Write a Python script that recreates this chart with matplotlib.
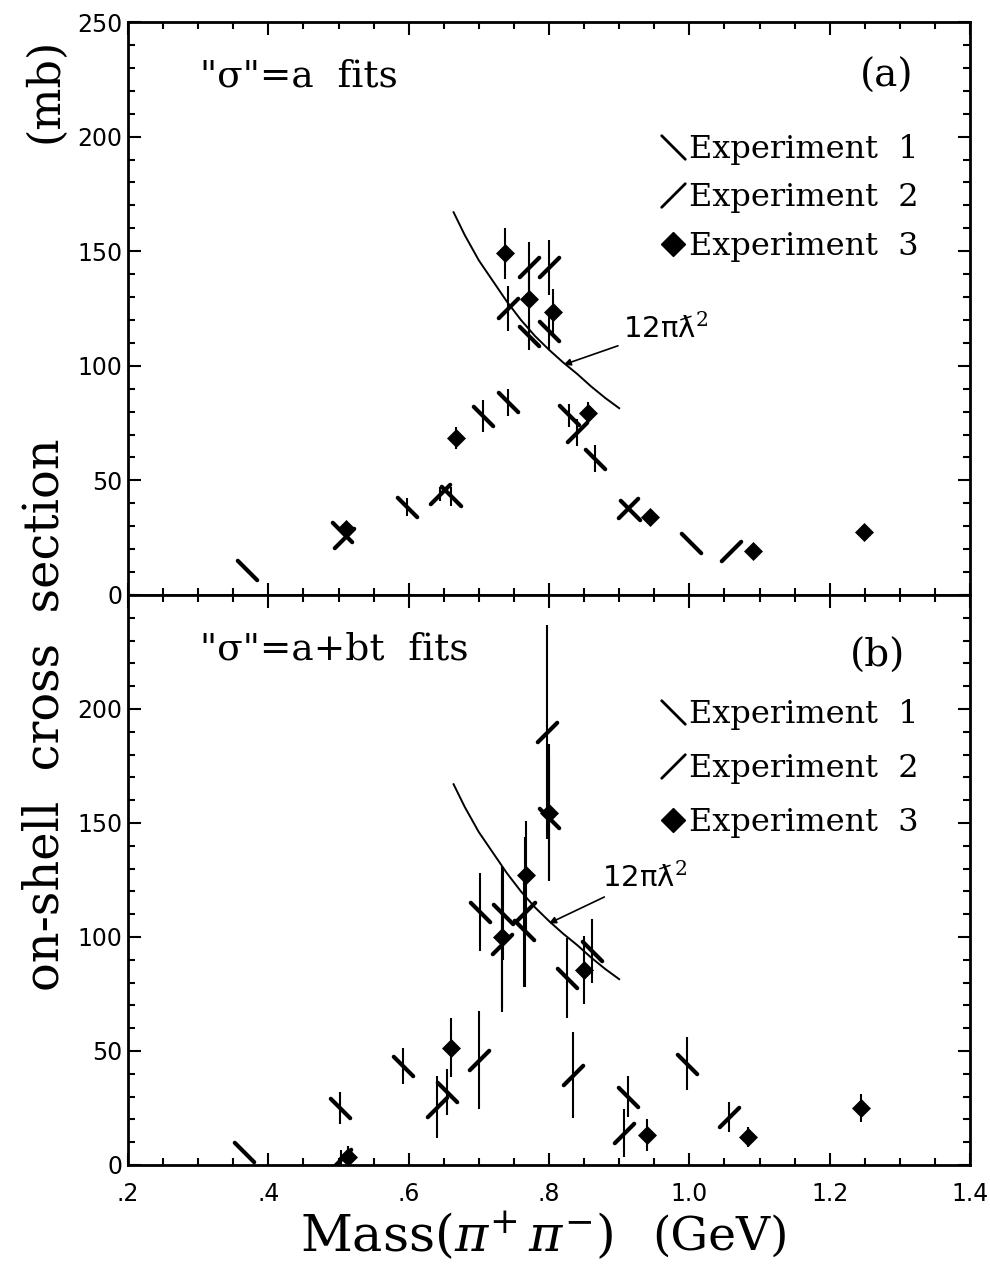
import matplotlib
matplotlib.use('Agg')
import matplotlib.pyplot as plt
from matplotlib.path import Path
from matplotlib.markers import MarkerStyle
from matplotlib.lines import Line2D
from matplotlib.ticker import FixedLocator, MultipleLocator, FixedFormatter

# ---------------- data ----------------
# panel (a): "sigma" = a fits
exp1_a_x = [0.370, 0.505, 0.597, 0.660, 0.706, 0.741, 0.771, 0.800, 0.829, 0.866, 0.915, 1.003]
exp1_a_y = [11.0, 27.5, 38.5, 43.0, 78.0, 84.0, 113.0, 115.0, 78.5, 59.5, 37.0, 22.5]
exp1_a_err = [0, 0, 4, 4, 7, 6, 6, 8, 5, 6, 0, 0]

exp2_a_x = [0.508, 0.645, 0.741, 0.771, 0.800, 0.840, 0.912, 1.060]
exp2_a_y = [25.0, 44.0, 125.0, 143.0, 143.0, 71.0, 38.0, 19.0]
exp2_a_err = [0, 3, 10, 11, 12, 6, 0, 0]

exp3_a_x = [0.510, 0.667, 0.737, 0.771, 0.806, 0.856, 0.944, 1.091, 1.249]
exp3_a_y = [29.0, 68.5, 149.0, 129.0, 123.5, 79.5, 34.0, 19.0, 27.5]
exp3_a_err = [0, 5, 11, 15, 10, 4.5, 0, 0, 0]

# panel (b): "sigma" = a + bt fits
exp1_b_x = [0.366, 0.502, 0.592, 0.655, 0.701, 0.735, 0.765, 0.800, 0.826, 0.861, 0.913, 0.997]
exp1_b_y = [5.7, 25.0, 43.5, 32.0, 111.0, 110.0, 103.0, 152.0, 82.0, 94.0, 30.0, 44.5]
exp1_b_err = [0, 7, 8, 10, 17, 20, 25, 27, 17.5, 14, 9, 11.5]

exp2_b_x = [0.504, 0.641, 0.700, 0.733, 0.766, 0.797, 0.834, 0.907, 1.056]
exp2_b_y = [2.6, 25.5, 46.0, 97.0, 111.0, 190.0, 39.5, 14.0, 21.0]
exp2_b_err = [4, 13.5, 21.5, 30, 33, 47, 19, 10.5, 6.5]

exp3_b_x = [0.513, 0.661, 0.733, 0.767, 0.800, 0.850, 0.939, 1.084, 1.244]
exp3_b_y = [3.5, 51.5, 100.0, 127.0, 154.5, 85.5, 13.0, 12.3, 25.0]
exp3_b_err = [5, 13, 31, 24, 30, 15, 7, 4.5, 6]

# unitarity curve 12*pi*lambdabar^2
curve_x = [0.664, 0.680, 0.700, 0.720, 0.740, 0.760, 0.780, 0.800, 0.820, 0.840, 0.860, 0.880, 0.900]
curve_y = [167.0, 157.0, 146.0, 137.0, 128.0, 120.0, 113.0, 107.0, 101.5, 96.5, 91.0, 86.0, 81.5]

xticks = [0.2, 0.4, 0.6, 0.8, 1.0, 1.2, 1.4]
xticklabels = ['.2', '.4', '.6', '.8', '1.0', '1.2', '1.4']
yticks_a = [0, 50, 100, 150, 200, 250]
yticks_b = [0, 50, 100, 150, 200]
legend_labels = ['Experiment  1', 'Experiment  2', 'Experiment  3']

# ---------------- styling ----------------
W, H = 990, 1277
fig = plt.figure(figsize=(W / 100, H / 100), dpi=100)
plt.rcParams['mathtext.fontset'] = 'dejavuserif'

SERIF = 'DejaVu Serif'
SANS = 'DejaVu Sans'

bs_path = Path([(-1, 1), (1, -1)], [Path.MOVETO, Path.LINETO])
fs_path = Path([(-1, -1), (1, 1)], [Path.MOVETO, Path.LINETO])
m_bs = MarkerStyle(bs_path, capstyle='round')
m_fs = MarkerStyle(fs_path, capstyle='round')

def px_axes(l, t, r, b):
    return [l / W, 1 - b / H, (r - l) / W, (b - t) / H]

ax1 = fig.add_axes(px_axes(128, 22, 970, 595))
ax2 = fig.add_axes(px_axes(128, 595, 970, 1165))

def draw_panel(ax, e1, e2, e3):
    for (x, y, err) in (e1, e2, e3):
        ax.errorbar(x, y, yerr=err, fmt='none', ecolor='black', elinewidth=1.5, capsize=0, zorder=2)
    ax.plot(e1[0], e1[1], linestyle='none', marker=m_bs, markersize=14, markeredgewidth=3.0,
            markeredgecolor='black', markerfacecolor='none', zorder=3)
    ax.plot(e2[0], e2[1], linestyle='none', marker=m_fs, markersize=14, markeredgewidth=3.0,
            markeredgecolor='black', markerfacecolor='none', zorder=3)
    ax.plot(e3[0], e3[1], linestyle='none', marker='D', markersize=9.5, markeredgewidth=0.5,
            markeredgecolor='black', markerfacecolor='black', zorder=4)
    ax.plot(curve_x, curve_y, color='black', linewidth=1.4, zorder=2)

    ax.set_xlim(0.2, 1.4)
    ax.set_ylim(0, 250)
    ax.xaxis.set_major_locator(FixedLocator(xticks))
    ax.xaxis.set_minor_locator(MultipleLocator(0.05))
    ax.yaxis.set_minor_locator(MultipleLocator(10))
    ax.tick_params(which='both', direction='in', top=True, right=True, width=1.5)
    ax.tick_params(which='major', length=9)
    ax.tick_params(which='minor', length=5)
    for s in ax.spines.values():
        s.set_linewidth(2.0)

draw_panel(ax1, (exp1_a_x, exp1_a_y, exp1_a_err), (exp2_a_x, exp2_a_y, exp2_a_err),
           (exp3_a_x, exp3_a_y, exp3_a_err))
draw_panel(ax2, (exp1_b_x, exp1_b_y, exp1_b_err), (exp2_b_x, exp2_b_y, exp2_b_err),
           (exp3_b_x, exp3_b_y, exp3_b_err))

ax1.set_yticks(yticks_a)
ax2.set_yticks(yticks_b)
ax1.set_yticklabels([str(v) for v in yticks_a], fontfamily=SANS, fontsize=17)
ax2.set_yticklabels([str(v) for v in yticks_b], fontfamily=SANS, fontsize=17)
ax1.tick_params(axis='y', pad=4)
ax2.tick_params(axis='y', pad=4)
ax1.set_xticklabels([])
ax2.xaxis.set_major_formatter(FixedFormatter(xticklabels))
ax2.tick_params(axis='x', pad=12)
for lab in ax2.get_xticklabels():
    lab.set_fontfamily(SANS)
    lab.set_fontsize(17)

# panel titles
ax1.text(0.086, 0.905, '"σ"=a  fits', transform=ax1.transAxes, fontsize=27, family=SERIF,
         va='center', ha='left')
ax1.text(0.901, 0.905, '(a)', transform=ax1.transAxes, fontsize=28, family=SERIF,
         va='center', ha='center')
ax2.text(0.086, 0.905, '"σ"=a+bt  fits', transform=ax2.transAxes, fontsize=27, family=SERIF,
         va='center', ha='left')
ax2.text(0.890, 0.893, '(b)', transform=ax2.transAxes, fontsize=28, family=SERIF,
         va='center', ha='center')

# 12 pi lambdabar^2 annotations
ax1.annotate('12πƛ$^2$', xy=(0.821, 100.5), xytext=(0.906, 116), fontsize=21, family=SANS,
             va='center', ha='left',
             arrowprops=dict(arrowstyle='-|>', color='black', lw=1.2, mutation_scale=10,
                             shrinkA=2, shrinkB=0))
ax2.annotate('12πƛ$^2$', xy=(0.800, 106), xytext=(0.876, 126), fontsize=21, family=SANS,
             va='center', ha='left',
             arrowprops=dict(arrowstyle='-|>', color='black', lw=1.2, mutation_scale=10,
                             shrinkA=2, shrinkB=0))

# legends
def make_handles():
    return [
        Line2D([], [], linestyle='none', marker=m_bs, markersize=17, markeredgewidth=2.0,
               markeredgecolor='black', markerfacecolor='none'),
        Line2D([], [], linestyle='none', marker=m_fs, markersize=17, markeredgewidth=2.0,
               markeredgecolor='black', markerfacecolor='none'),
        Line2D([], [], linestyle='none', marker='D', markersize=12,
               markeredgecolor='black', markerfacecolor='black'),
    ]

for ax, anchor, sp in ((ax1, (0.615, 0.827), 0.55), (ax2, (0.615, 0.84), 0.72)):
    ax.legend(make_handles(), legend_labels, loc='upper left', bbox_to_anchor=anchor,
              frameon=False, handlelength=0.9, handletextpad=0.05, labelspacing=sp,
              borderaxespad=0, numpoints=1, prop={'family': SERIF, 'size': 23})

# axis labels (as figure text)
fig.text(456 / W, 1 - 1237 / H, 'Mass($\\pi^{+}\\,\\pi^{-}$)', fontsize=36.5, family=SERIF,
         ha='center', va='center')
fig.text(720 / W, 1 - 1237 / H, '(GeV)', fontsize=34, family=SERIF, ha='center', va='center')
fig.text(45 / W, 1 - 715 / H, 'on-shell  cross  section', fontsize=34.5, family=SERIF,
         ha='center', va='center', rotation=90)
fig.text(45 / W, 1 - 90 / H, '(mb)', fontsize=32, family=SERIF, ha='center', va='center',
         rotation=90)

fig.savefig('out.png', dpi=100, facecolor='white')
